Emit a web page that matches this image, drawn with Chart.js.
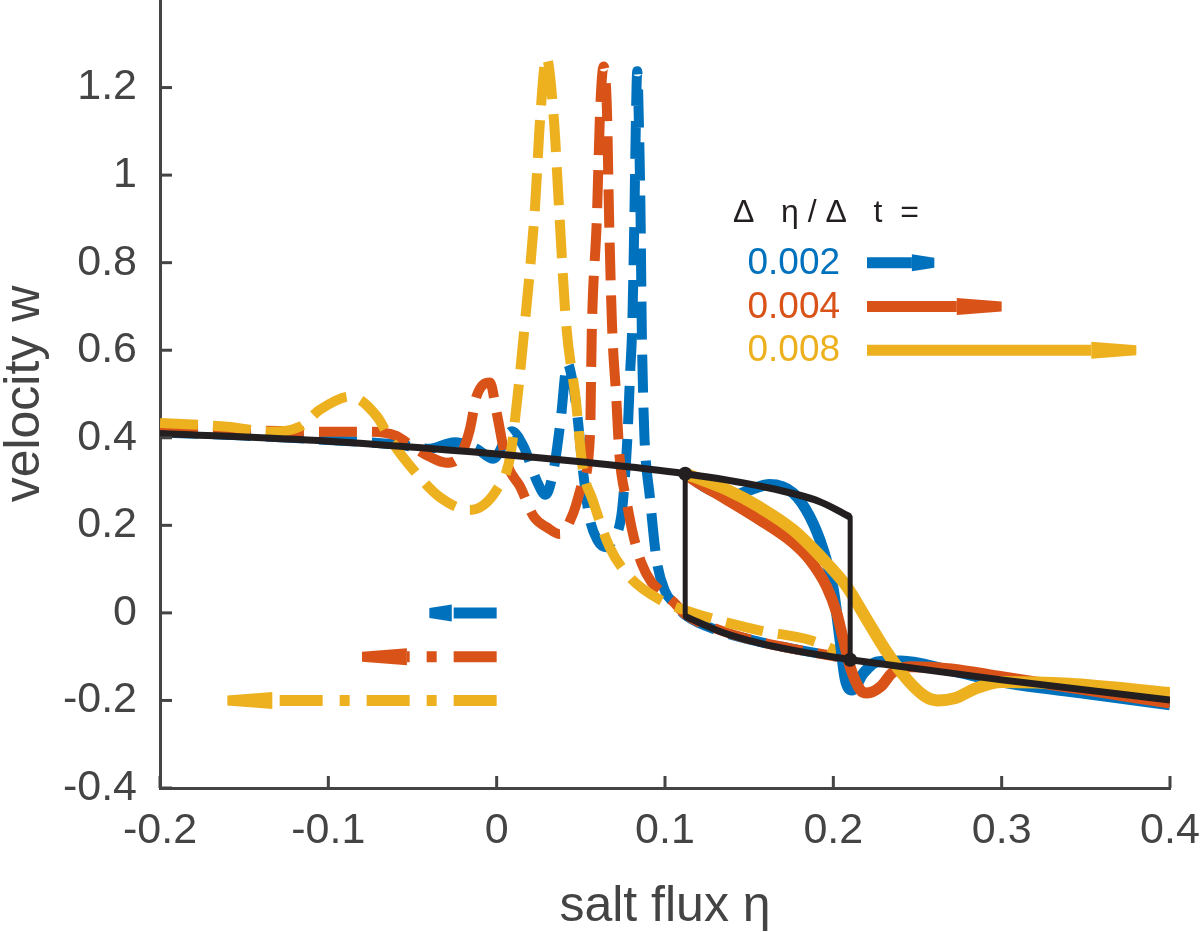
<!DOCTYPE html>
<html>
<head>
<meta charset="utf-8">
<script src="https://cdn.jsdelivr.net/npm/chart.js"></script>
<style>
  html, body { margin: 0; padding: 0; background: #ffffff; }
  #wrap { width: 1200px; height: 932px; position: relative; }
</style>
</head>
<body>
<div id="wrap"><canvas id="c"></canvas></div>
<script>
// ---------------- DATA ----------------
const xTicks = [-0.2, -0.1, 0, 0.1, 0.2, 0.3, 0.4];
const yTicks = [-0.4, -0.2, 0, 0.2, 0.4, 0.6, 0.8, 1, 1.2];

// black reference curve (steady-state branches)
const blackUpperX = [-0.2, -0.1, 0, 0.05, 0.112, 0.156, 0.192, 0.21];
const blackUpperY = [0.41, 0.392, 0.363, 0.345, 0.318, 0.29, 0.254, 0.219];
const blackRightJumpX = [0.21, 0.21];
const blackRightJumpY = [0.219, -0.107];
const blackLowerX = [0.21, 0.3, 0.4];
const blackLowerY = [-0.107, -0.153, -0.199];
const blackLeftJumpX = [0.112, 0.112];
const blackLeftJumpY = [0.318, -0.008];
const blackMidLowerX = [0.112, 0.133, 0.156, 0.18, 0.21];
const blackMidLowerY = [-0.008, -0.043, -0.069, -0.088, -0.107];
const blackDotX = [0.112, 0.21];
const blackDotY = [0.318, -0.107];

// forward sweeps (solid)
const blueSolidX = [0.112, 0.127, 0.14, 0.152, 0.162, 0.176, 0.186, 0.194, 0.2, 0.204, 0.207, 0.211, 0.218, 0.226, 0.24, 0.27, 0.3, 0.35, 0.4];
const blueSolidY = [0.318, 0.281, 0.268, 0.283, 0.293, 0.274, 0.22, 0.144, 0.053, -0.062, -0.15, -0.176, -0.137, -0.112, -0.11, -0.132, -0.158, -0.184, -0.21];
const redSolidX = [0.112, 0.117, 0.137, 0.156, 0.176, 0.186, 0.196, 0.202, 0.206, 0.21, 0.216, 0.22, 0.228, 0.235, 0.246, 0.27, 0.3, 0.35, 0.4];
const redSolidY = [0.318, 0.304, 0.258, 0.213, 0.16, 0.121, 0.06, 0.0, -0.062, -0.123, -0.176, -0.183, -0.169, -0.137, -0.123, -0.128, -0.146, -0.176, -0.206];
const yellowSolidX = [0.112, 0.117, 0.137, 0.156, 0.176, 0.196, 0.208, 0.22, 0.232, 0.244, 0.255, 0.262, 0.272, 0.285, 0.3, 0.34, 0.4];
const yellowSolidY = [0.318, 0.311, 0.281, 0.242, 0.19, 0.114, 0.06, -0.016, -0.091, -0.153, -0.192, -0.2, -0.195, -0.172, -0.158, -0.162, -0.183];

// backward sweeps (dashed)
const blueDashX = [-0.2, -0.15, -0.1, -0.06, -0.04, -0.025, -0.012, -0.002, 0.009, 0.016, 0.024, 0.029, 0.034, 0.038, 0.042, 0.045, 0.048, 0.051, 0.055, 0.06, 0.065, 0.069, 0.074, 0.076, 0.0778, 0.0793, 0.0805, 0.0818, 0.0826, 0.0835, 0.0846, 0.0855, 0.0862, 0.087, 0.0878, 0.091, 0.095, 0.1, 0.106, 0.112, 0.133, 0.156, 0.18, 0.21];
const blueDashY = [0.412, 0.405, 0.395, 0.385, 0.375, 0.39, 0.375, 0.352, 0.415, 0.38, 0.3, 0.27, 0.33, 0.44, 0.57, 0.53, 0.448, 0.334, 0.22, 0.165, 0.15, 0.167, 0.22, 0.3, 0.41, 0.55, 0.65, 0.9, 1.1, 1.237, 1.1, 0.9, 0.65, 0.5, 0.4, 0.265, 0.121, 0.05, 0.02, -0.005, -0.042, -0.066, -0.085, -0.105];
const redDashX = [-0.2, -0.15, -0.1, -0.075, -0.06, -0.05, -0.04, -0.03, -0.022, -0.016, -0.012, -0.004, 0.0, 0.006, 0.014, 0.022, 0.03, 0.0376, 0.0455, 0.051, 0.0555, 0.0565, 0.0595, 0.0615, 0.0635, 0.0655, 0.0668, 0.0685, 0.071, 0.073, 0.077, 0.081, 0.086, 0.092, 0.099, 0.105, 0.112, 0.133, 0.156, 0.18, 0.21];
const redDashY = [0.423, 0.417, 0.414, 0.414, 0.405, 0.38, 0.357, 0.343, 0.357, 0.418, 0.494, 0.526, 0.457, 0.343, 0.288, 0.22, 0.195, 0.18, 0.228, 0.297, 0.41, 0.64, 0.9, 1.15, 1.248, 1.15, 0.9, 0.66, 0.494, 0.357, 0.258, 0.18, 0.114, 0.07, 0.045, 0.025, -0.003, -0.04, -0.066, -0.085, -0.105];
const yellowDashX = [-0.2, -0.16, -0.135, -0.117, -0.105, -0.087, -0.071, -0.063, -0.046, -0.034, -0.016, 0.0, 0.008, 0.012, 0.0168, 0.0228, 0.0258, 0.0295, 0.034, 0.037, 0.0412, 0.047, 0.051, 0.057, 0.067, 0.079, 0.097, 0.117, 0.156, 0.186, 0.21];
const yellowDashY = [0.434, 0.425, 0.414, 0.425, 0.464, 0.494, 0.448, 0.395, 0.311, 0.265, 0.235, 0.281, 0.357, 0.48, 0.663, 0.928, 1.127, 1.269, 1.127, 0.928, 0.663, 0.487, 0.334, 0.258, 0.151, 0.082, 0.03, 0.0, -0.04, -0.062, -0.1];

// key annotation (data units)
const keyTitle = 'Δ   η / Δ   t  =';
const keyTitleAt = [0.1404, 0.894];
const keyLabels = ['0.002', '0.004', '0.008'];
const keyRowY = [0.8, 0.7, 0.6];
const keyLabelRight = 0.204;
const keyArrowFrom = 0.22;
const keyArrowTo = [0.26, 0.30, 0.38];
const backArrowY = [0, -0.1, -0.2];
const backArrowFrom = 0;
const backArrowTo = [-0.04, -0.08, -0.16];

// ---------------- STYLE ----------------
const BLUE = '#0072BD', RED = '#D95319', YELLOW = '#EDB120', BLACK = '#231F20', AXIS = '#444444';
const SERIES_COLORS = [BLUE, RED, YELLOW];
const FONT = "'Liberation Sans', Arial, Helvetica, sans-serif";
Chart.defaults.font.family = FONT;

function pts(xs, ys) { return xs.map((x, i) => ({ x: x, y: ys[i] })); }
function fmt(v) { return String(+Number(v).toFixed(2)); }

function curve(xs, ys, color, width, dashed, order, smooth) {
  return {
    data: pts(xs, ys),
    showLine: true,
    borderColor: color,
    backgroundColor: color,
    borderWidth: width,
    borderDash: dashed ? [38, 15] : [],
    borderCapStyle: 'butt',
    borderJoinStyle: 'round',
    pointRadius: 0,
    pointHoverRadius: 0,
    cubicInterpolationMode: smooth ? 'monotone' : 'default',
    tension: 0,
    fill: false,
    order: order
  };
}

const datasets = [
  curve(blueDashX, blueDashY, BLUE, 10, true, 6, true),
  curve(redDashX, redDashY, RED, 10, true, 5, true),
  curve(yellowDashX, yellowDashY, YELLOW, 10, true, 4, true),
  curve(blueSolidX, blueSolidY, BLUE, 11, false, 3, true),
  curve(redSolidX, redSolidY, RED, 11, false, 2, true),
  curve(yellowSolidX, yellowSolidY, YELLOW, 12, false, 1, true),
  curve(blackUpperX, blackUpperY, BLACK, 7, false, 0, true),
  curve(blackRightJumpX, blackRightJumpY, BLACK, 5, false, 0, false),
  curve(blackLowerX, blackLowerY, BLACK, 7, false, 0, false),
  curve(blackLeftJumpX, blackLeftJumpY, BLACK, 5, false, 0, false),
  curve(blackMidLowerX, blackMidLowerY, BLACK, 7, false, 0, true),
  {
    data: pts(blackDotX, blackDotY), showLine: false, pointRadius: 7, pointHoverRadius: 7,
    pointBackgroundColor: BLACK, pointBorderColor: BLACK, pointBorderWidth: 0, order: -1
  }
];

function drawArrow(ctx, x0, x1, py, color, dash) {
  const dir = Math.sign(x1 - x0);
  const len = Math.abs(x1 - x0);
  const head = Math.min(45, len / 3);
  const shaftEnd = x1 - dir * head;
  ctx.save();
  ctx.strokeStyle = color;
  ctx.lineWidth = 11;
  ctx.lineCap = 'butt';
  ctx.setLineDash(dash);
  ctx.beginPath();
  ctx.moveTo(x0, py);
  ctx.lineTo(shaftEnd, py);
  ctx.stroke();
  ctx.setLineDash([]);
  ctx.fillStyle = color;
  ctx.beginPath();
  ctx.moveTo(shaftEnd, py - 8.5);
  ctx.lineTo(x1, py - 5);
  ctx.lineTo(x1, py + 5);
  ctx.lineTo(shaftEnd, py + 8.5);
  ctx.closePath();
  ctx.fill();
  ctx.restore();
}

const overlay = {
  id: 'overlay',
  afterDraw(chart) {
    const ctx = chart.ctx;
    const xs = chart.scales.x, ys = chart.scales.y;
    const area = chart.chartArea;
    ctx.save();
    // inward tick marks
    ctx.strokeStyle = AXIS;
    ctx.lineWidth = 3;
    ctx.setLineDash([]);
    xs.ticks.forEach(t => {
      const px = xs.getPixelForValue(t.value);
      ctx.beginPath(); ctx.moveTo(px, area.bottom); ctx.lineTo(px, area.bottom - 12); ctx.stroke();
    });
    ys.ticks.forEach(t => {
      const py = ys.getPixelForValue(t.value);
      ctx.beginPath(); ctx.moveTo(area.left, py); ctx.lineTo(area.left + 12, py); ctx.stroke();
    });

    // key title
    ctx.fillStyle = BLACK;
    ctx.font = '32px ' + FONT;
    ctx.textAlign = 'left';
    ctx.textBaseline = 'alphabetic';
    ctx.fillText(keyTitle, xs.getPixelForValue(keyTitleAt[0]), ys.getPixelForValue(keyTitleAt[1]));

    // key rows
    ctx.font = '37px ' + FONT;
    ctx.textAlign = 'right';
    ctx.textBaseline = 'middle';
    keyLabels.forEach((lab, i) => {
      const py = ys.getPixelForValue(keyRowY[i]);
      ctx.fillStyle = SERIES_COLORS[i];
      ctx.fillText(lab, xs.getPixelForValue(keyLabelRight), py + 1);
      drawArrow(ctx, xs.getPixelForValue(keyArrowFrom), xs.getPixelForValue(keyArrowTo[i]), py, SERIES_COLORS[i], []);
    });

    // backward arrows (dash-dot)
    backArrowY.forEach((yv, i) => {
      drawArrow(ctx, xs.getPixelForValue(backArrowFrom), xs.getPixelForValue(backArrowTo[i]),
        ys.getPixelForValue(yv), SERIES_COLORS[i], [43, 17, 10, 17]);
    });
    ctx.restore();
  }
};

new Chart(document.getElementById('c'), {
  type: 'scatter',
  data: { datasets: datasets },
  options: {
    responsive: true,
    maintainAspectRatio: false,
    animation: false,
    layout: { autoPadding: false, padding: { left: 0, right: 30, top: 0, bottom: 0 } },
    plugins: { legend: { display: false }, tooltip: { enabled: false } },
    scales: {
      x: {
        type: 'linear', position: 'bottom', min: -0.2, max: 0.4,
        afterBuildTicks: s => { s.ticks = xTicks.map(v => ({ value: v })); },
        afterFit: s => { s.height = 144; s.paddingLeft = 0; s.paddingRight = 0; },
        grid: { display: false, drawTicks: false },
        border: { display: true, color: AXIS, width: 3 },
        ticks: { font: { size: 43 }, color: AXIS, padding: 17, maxRotation: 0, autoSkip: false, callback: v => fmt(v) },
        title: { display: true, text: 'salt flux η', color: AXIS, font: { size: 50, lineHeight: 1 }, padding: { top: 0, bottom: 0 } }
      },
      y: {
        type: 'linear', position: 'left', min: -0.4, max: 1.4,
        afterBuildTicks: s => { s.ticks = yTicks.map(v => ({ value: v })); },
        afterFit: s => { s.width = 160; s.paddingTop = 0; s.paddingBottom = 0; },
        grid: { display: false, drawTicks: false },
        border: { display: true, color: AXIS, width: 3 },
        ticks: { font: { size: 43, lineHeight: 1 }, color: AXIS, padding: 23, autoSkip: false, callback: v => fmt(v) },
        title: { display: true, text: 'velocity w', color: AXIS, font: { size: 50, lineHeight: 1 }, padding: { top: 0, bottom: 0 } }
      }
    }
  },
  plugins: [overlay]
});
</script>
</body>
</html>
